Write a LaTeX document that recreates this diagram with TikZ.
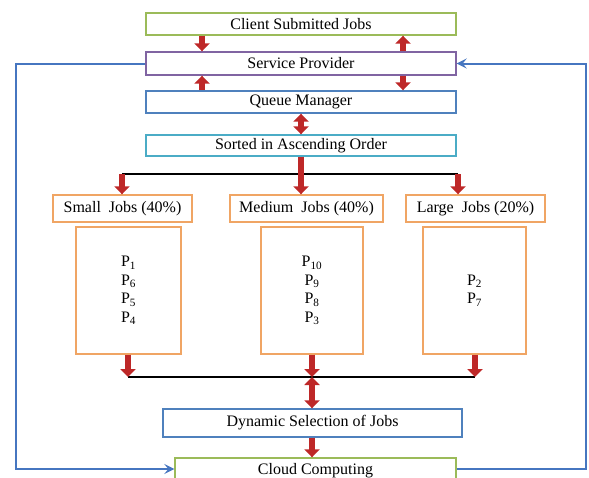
\documentclass[tikz,border=0pt]{standalone}
\usepackage{fontspec}
\setmainfont{Liberation Serif}
\usetikzlibrary{arrows.meta}
\definecolor{cgreen}{RGB}{155,187,89}
\definecolor{cpurple}{RGB}{128,100,162}
\definecolor{cblue}{RGB}{79,129,189}
\definecolor{ccyan}{RGB}{75,172,198}
\definecolor{corange}{RGB}{240,165,100}
\definecolor{cred}{RGB}{190,40,40}
\definecolor{cline}{RGB}{70,118,192}
\tikzset{
  box/.style={draw, line width=1.4pt, fill=white, inner sep=0pt, font=\fontsize{16}{18.5}\selectfont},
  redarr/.style={draw=cred, line width=6pt, -{Triangle[length=8pt,width=15pt]}},
  dblarr/.style={draw=cred, line width=6pt, {Triangle[length=8pt,width=15pt]}-{Triangle[length=8pt,width=15pt]}},
  bluearr/.style={draw=cline, line width=2pt, -{Stealth[length=10pt,width=10pt,inset=4pt]}},
  bar/.style={draw=black, line width=2.2pt}
}
\begin{document}
\begin{tikzpicture}[x=1pt,y=-1pt]
\useasboundingbox (0,0) rectangle (589,477);
% top column
\node[box, draw=cgreen, minimum width=310pt, minimum height=22pt] (client) at (301,24) {Client Submitted Jobs};
\node[box, draw=cpurple, minimum width=310pt, minimum height=23pt] (sp) at (301,63.5) {Service Provider};
\node[box, draw=cblue, minimum width=310pt, minimum height=22pt] (qm) at (301,102) {Queue Manager};
\node[box, draw=ccyan, minimum width=310pt, minimum height=21pt] (sorted) at (301,145.5) {Sorted in Ascending Order};
% categories
\node[box, draw=corange, minimum width=139pt, minimum height=27pt] (small) at (122.5,208.5) {Small\ \ Jobs (40\%)};
\node[box, draw=corange, minimum width=153pt, minimum height=27pt] (medium) at (306.5,208.5) {Medium\ \ Jobs (40\%)};
\node[box, draw=corange, minimum width=139pt, minimum height=27pt] (large) at (475.5,208.5) {Large\ \ Jobs (20\%)};
% process lists
\node[box, draw=corange, minimum width=105pt, minimum height=127pt, align=center] (smallin) at (128.5,290.5)
  {P\textsubscript{1}\\P\textsubscript{6}\\P\textsubscript{5}\\P\textsubscript{4}};
\node[box, draw=corange, minimum width=102pt, minimum height=127pt, align=center] (medin) at (312,290.5)
  {P\textsubscript{10}\\P\textsubscript{9}\\P\textsubscript{8}\\P\textsubscript{3}};
\node[box, draw=corange, minimum width=103pt, minimum height=127pt, align=center] (largein) at (474.5,290.5)
  {P\textsubscript{2}\\P\textsubscript{7}};
% bottom
\node[box, draw=cblue, minimum width=299pt, minimum height=28pt] (dyn) at (312.5,423) {Dynamic Selection of Jobs};
\node[box, draw=cgreen, minimum width=281pt, minimum height=26pt] (cloud) at (315.5,471) {Cloud Computing};
% helper coordinates
\coordinate (xa) at (202,0);
\coordinate (xb) at (403,0);
\coordinate (xm) at (301,0);
\coordinate (h1) at (122,174);
\coordinate (h2) at (301,174);
\coordinate (h3) at (458,174);
\coordinate (b1) at (128,377);
\coordinate (b2) at (312,377);
\coordinate (b3) at (475,377);
\coordinate (lx) at (16,0);
\coordinate (rx) at (586,0);
\coordinate (ly) at (0,469);
% red arrows top
\draw[redarr] (client.south -| xa) -- (sp.north -| xa);
\draw[redarr] (sp.north -| xb) -- (client.south -| xb);
\draw[redarr] (qm.north -| xa) -- (sp.south -| xa);
\draw[redarr] (sp.south -| xb) -- (qm.north -| xb);
\draw[dblarr] (qm.south -| xm) -- (sorted.north -| xm);
% distribution bar
\draw[bar] (h1) -- (h3);
\draw[redarr] (sorted.south -| xm) -- (medium.north -| h2);
\draw[redarr] (h1) -- (small.north -| h1);
\draw[redarr] (h3) -- (large.north -| h3);
% collection bar
\draw[bar] (b1) -- (b3);
\draw[redarr] (smallin.south -| b1) -- (b1);
\draw[redarr] (medin.south -| b2) -- (b2);
\draw[redarr] (largein.south -| b3) -- (b3);
\draw[dblarr] (b2) -- (dyn.north -| b2);
\draw[redarr] (dyn.south -| b2) -- (cloud.north -| b2);
% blue feedback loops
\draw[bluearr] (sp.west) -- (sp.west -| lx) -- (lx |- ly) -- (cloud.west |- ly);
\draw[bluearr] (cloud.east |- ly) -- (rx |- ly) -- (rx |- sp.east) -- (sp.east);
\end{tikzpicture}
\end{document}
